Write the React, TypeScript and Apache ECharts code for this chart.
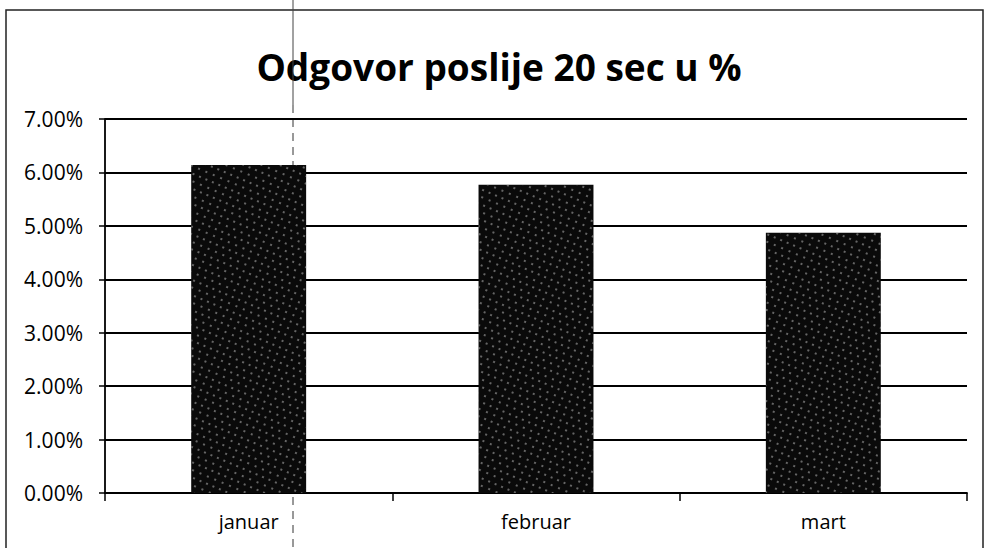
import React, { useEffect, useRef } from "react";
import * as echarts from "echarts";

const titleText = "Odgovor poslije 20 sec u %";
const categories = ["januar", "februar", "mart"];
const values = [0.0614, 0.0577, 0.0487];
const yMin = 0;
const yMax = 0.07;
const yStep = 0.01;

export default function App() {
  const ref = useRef<HTMLDivElement>(null);
  useEffect(() => {
    if (!ref.current) return;
    const chart = echarts.init(ref.current, null, { renderer: "svg" });
    const font = "'Open Sans', 'Liberation Sans', sans-serif";
    chart.setOption({
      animation: false,
      backgroundColor: "#ffffff",
      grid: { left: 105, right: 20, top: 119, bottom: 55 },
      xAxis: {
        type: "category",
        data: categories,
        axisLine: { lineStyle: { color: "#000", width: 1.8 } },
        axisTick: { show: true, length: 8, lineStyle: { color: "#000", width: 1.5 } },
        axisLabel: { fontFamily: font, fontSize: 20, color: "#000", margin: 18 },
      },
      yAxis: {
        type: "value",
        min: yMin,
        max: yMax,
        interval: yStep,
        axisLine: { show: true, lineStyle: { color: "#000", width: 1.8 } },
        axisTick: { show: true, length: 6, lineStyle: { color: "#000", width: 1.5 } },
        axisLabel: {
          fontFamily: font,
          fontSize: 21,
          color: "#000",
          margin: 22,
          formatter: (v: number) => (v * 100).toFixed(2) + "%",
        },
        splitLine: { lineStyle: { color: "#000", width: 1.8 } },
      },
      series: [
        {
          type: "bar",
          data: values,
          barCategoryGap: "60%",
          itemStyle: {
            color: "#0a0a0a",
            decal: {
              symbol: "rect",
              symbolSize: 0.8,
              color: "rgba(200,200,200,0.8)",
              dashArrayX: [[2, 6], [2, 5]],
              dashArrayY: [2, 5],
              rotation: 0.4,
            },
          },
        },
      ],
      graphic: [
        {
          type: "text",
          x: 499,
          y: 66,
          silent: true,
          style: {
            text: titleText,
            fontFamily: font,
            fontWeight: "bold",
            fontSize: 37,
            fill: "#000",
            align: "center",
            verticalAlign: "middle",
          },
        },
        {
          type: "rect",
          shape: { x: 6, y: 10, width: 977, height: 560 },
          style: { fill: "none", stroke: "#222", lineWidth: 1.5 },
          silent: true,
        },
        {
          type: "line",
          shape: { x1: 293, y1: 0, x2: 293, y2: 105 },
          style: { stroke: "#444", lineWidth: 1 },
          silent: true,
        },
        {
          type: "line",
          shape: { x1: 293, y1: 105, x2: 293, y2: 548 },
          style: { stroke: "#333", lineWidth: 1, lineDash: [8, 6] },
          silent: true,
        },
      ],
    });
    return () => chart.dispose();
  }, []);
  return (
    <div
      ref={ref}
      style={{ position: "fixed", left: 0, top: 0, width: 987, height: 548 }}
    />
  );
}
